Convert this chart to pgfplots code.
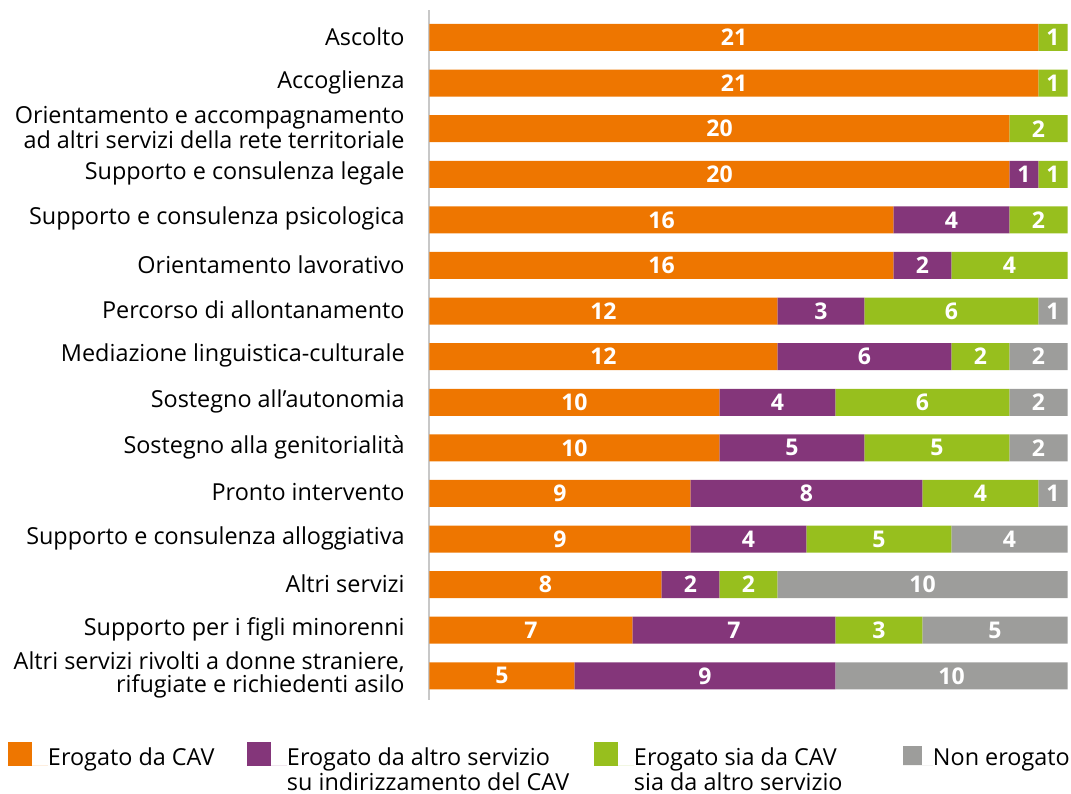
\documentclass[border=0pt]{standalone}
\usepackage{fontspec}
\setmainfont{Open Sans}
\usepackage{pgfplots}
\pgfplotsset{compat=1.18}
\definecolor{cOr}{RGB}{238,118,0}
\definecolor{cPu}{RGB}{132,54,122}
\definecolor{cGr}{RGB}{151,191,30}
\definecolor{cGy}{RGB}{157,157,155}
\definecolor{cAx}{RGB}{200,200,200}
\pgfplotsset{
  sq/.style={legend image code/.code={\fill[##1] (0pt,-0.5pt) rectangle (12pt,11.5pt);\path (0pt,0pt) -- (20pt,0pt);}},
  sqs/.style={legend image code/.code={\fill[##1] (0pt,0pt) rectangle (9.5pt,9.5pt);\path (0pt,0pt) -- (15pt,0pt);}},
}
\begin{document}
\begin{tikzpicture}
\path[use as bounding box] (-214.75pt,-46.5pt) rectangle (320.75pt,350pt);
\begin{axis}[
  at={(0pt,0pt)}, anchor=south west,
  scale only axis, width=319pt, height=345pt,
  xbar stacked, bar width=13.5pt,
  xmin=0, xmax=22, ymin=-0.603, ymax=14.53, y dir=reverse,
  separate axis lines,
  axis x line=none, axis y line*=left,
  y axis line style={draw=cAx, line width=1pt},
  xtick=\empty,
  ytick={0,...,14}, major tick length=0pt,
  yticklabels={Ascolto, Accoglienza,
    {Orientamento e accompagnamento\\ad altri servizi della rete territoriale},
    Supporto e consulenza legale, Supporto e consulenza psicologica,
    Orientamento lavorativo, Percorso di allontanamento,
    Mediazione linguistica-culturale, Sostegno all’autonomia,
    Sostegno alla genitorialità, Pronto intervento,
    Supporto e consulenza alloggiativa, Altri servizi,
    Supporto per i figli minorenni,
    {Altri servizi rivolti a donne straniere,\\rifugiate e richiedenti asilo}},
  yticklabel style={align=right, inner sep=0pt, xshift=-12.25pt, yshift=0.5pt,
    font=\fontsize{11.7}{11.2}\selectfont, text=black},
  point meta=explicit symbolic,
  nodes near coords,
  every node near coord/.append style={text=white,
    font=\bfseries\fontsize{11.5}{12}\selectfont},
  legend columns=4,
  legend cell align=left,
  legend style={draw=none, fill=none, at={(0,0)}, anchor=north west,
    xshift=-210.75pt, yshift=-21pt, inner sep=0pt, outer sep=0pt,
    column sep=0pt, row sep=0pt,
    nodes={inner sep=0pt, outer sep=0pt},
    cells={anchor=base west, inner sep=0pt, outer sep=0pt},
    font=\fontsize{11.7}{10.5}\selectfont},
]
\addplot[fill=cOr, draw=none, sq] coordinates {
 (21,0)[21] (21,1)[21] (20,2)[20] (20,3)[20] (16,4)[16] (16,5)[16]
 (12,6)[12] (12,7)[12] (10,8)[10] (10,9)[10] (9,10)[9] (9,11)[9]
 (8,12)[8] (7,13)[7] (5,14)[5]};
\addlegendentry{\parbox[t]{99.5pt}{Erogato da CAV}}
\addplot[fill=cPu, draw=none, sq] coordinates {
 (0,0)[{}] (0,1)[{}] (0,2)[{}] (1,3)[1] (4,4)[4] (2,5)[2]
 (3,6)[3] (6,7)[6] (4,8)[4] (5,9)[5] (8,10)[8] (4,11)[4]
 (2,12)[2] (7,13)[7] (9,14)[9]};
\addlegendentry{\parbox[t]{153.5pt}{Erogato da altro servizio\\su indirizzamento del CAV}}
\addplot[fill=cGr, draw=none, sq] coordinates {
 (1,0)[1] (1,1)[1] (2,2)[2] (1,3)[1] (2,4)[2] (4,5)[4]
 (6,6)[6] (2,7)[2] (6,8)[6] (5,9)[5] (4,10)[4] (5,11)[5]
 (2,12)[2] (3,13)[3] (0,14)[{}]};
\addlegendentry{\parbox[t]{134.5pt}{Erogato sia da CAV\\sia da altro servizio}}
\addplot[fill=cGy, draw=none, sqs] coordinates {
 (0,0)[{}] (0,1)[{}] (0,2)[{}] (0,3)[{}] (0,4)[{}] (0,5)[{}]
 (1,6)[1] (2,7)[2] (2,8)[2] (2,9)[2] (1,10)[1] (4,11)[4]
 (10,12)[10] (5,13)[5] (8,14)[10]};
\addlegendentry{Non erogato}
\end{axis}
\end{tikzpicture}
\end{document}
